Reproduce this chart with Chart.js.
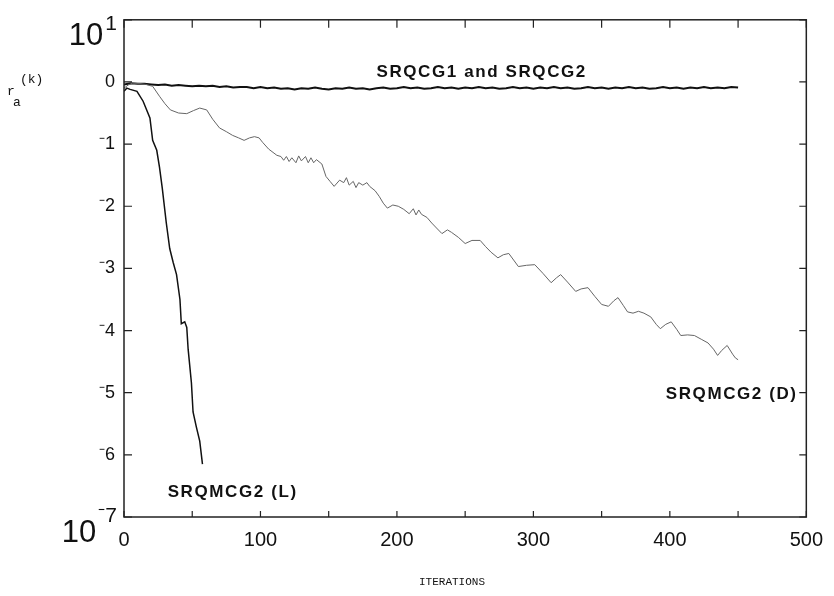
<!DOCTYPE html>
<html>
<head>
<meta charset="utf-8">
<script src="https://cdn.jsdelivr.net/npm/chart.js@4.4.1/dist/chart.umd.min.js"></script>
<style>
  html, body { margin: 0; padding: 0; background: #fff; }
  #wrap { width: 834px; height: 596px; position: relative; }
</style>
</head>
<body>
<div id="wrap"><canvas id="chart"></canvas></div>
<script>
// axis ticks
var xTicks = [0, 50, 100, 150, 200, 250, 300, 350, 400, 450, 500];
var xTickLabels = ["0", "", "100", "", "200", "", "300", "", "400", "", "500"];
var yTickExp = [-7, -6, -5, -4, -3, -2, -1, 0, 1];
var yTickLabels = ["10^-7", "-6", "-5", "-4", "-3", "-2", "-1", "0", "10^1"];

// SRQCG1 and SRQCG2 (log10 of residual)
var flatIter = [0, 5, 10, 15, 20, 25, 30, 35, 40, 45, 50, 55, 60, 65, 70, 75, 80, 85, 90, 95,
  100, 105, 110, 115, 120, 125, 130, 135, 140, 145, 150, 155, 160, 165, 170, 175, 180, 185, 190, 195,
  200, 205, 210, 215, 220, 225, 230, 235, 240, 245, 250, 255, 260, 265, 270, 275, 280, 285, 290, 295,
  300, 305, 310, 315, 320, 325, 330, 335, 340, 345, 350, 355, 360, 365, 370, 375, 380, 385, 390, 395,
  400, 405, 410, 415, 420, 425, 430, 435, 440, 445, 450];
var flatLog = [-0.04, -0.02, -0.03, -0.03, -0.04, -0.05, -0.04, -0.06, -0.05, -0.06, -0.07, -0.06, -0.07, -0.06, -0.08, -0.07, -0.09, -0.08, -0.08, -0.1,
  -0.08, -0.1, -0.09, -0.11, -0.1, -0.12, -0.1, -0.11, -0.09, -0.11, -0.12, -0.1, -0.11, -0.09, -0.11, -0.1, -0.12, -0.1, -0.09, -0.11,
  -0.1, -0.08, -0.1, -0.09, -0.11, -0.1, -0.08, -0.1, -0.09, -0.11, -0.09, -0.1, -0.08, -0.1, -0.09, -0.11, -0.1, -0.08, -0.1, -0.09,
  -0.11, -0.09, -0.1, -0.08, -0.1, -0.09, -0.11, -0.1, -0.08, -0.1, -0.09, -0.11, -0.09, -0.1, -0.08, -0.1, -0.09, -0.11, -0.1, -0.08,
  -0.1, -0.09, -0.11, -0.09, -0.1, -0.08, -0.1, -0.09, -0.1, -0.08, -0.09];

// SRQMCG2 (L)
var lIter = [0, 2, 4.5, 9.5, 14, 19, 21, 24, 26, 28, 31, 33.5, 36, 38.5, 41, 42, 44.5, 46, 47, 49.4, 50.6, 53, 55.5, 57.5];
var lLog = [-0.15, -0.1, -0.12, -0.15, -0.31, -0.58, -0.94, -1.1, -1.37, -1.7, -2.27, -2.68, -2.9, -3.1, -3.5, -3.89, -3.86, -3.95, -4.3, -4.84, -5.31, -5.55, -5.78, -6.15];

// SRQMCG2 (D)
var dIter = [0, 3, 6, 11.7, 16, 21, 26, 30, 34, 40, 46, 51, 55.5, 60.6, 65, 70, 75, 79.6, 84, 88,
  92, 95.6, 99, 101.5, 106, 112, 115, 117, 119, 121, 123, 126, 128, 130, 133, 135, 137, 139, 141, 145,
  148, 151, 154, 158, 161, 163, 165, 168, 170, 172, 175, 178, 180, 184, 187, 190, 193, 197, 201, 205,
  209, 212, 214, 216, 218, 222, 225.5, 229, 233, 237, 240, 245, 250, 255, 261, 265, 269, 274, 278, 282,
  286, 289, 295, 301, 307, 313, 317, 320, 325, 331, 335, 340, 345, 350, 355, 359, 362, 366, 369, 373,
  377, 381, 386, 390, 393, 397, 401, 405, 408, 413, 418, 423, 428, 432, 435, 438, 442, 446, 448, 450];
var dLog = [-0.1, -0.05, -0.02, -0.025, -0.04, -0.07, -0.23, -0.35, -0.45, -0.5, -0.51, -0.46, -0.42, -0.45, -0.6, -0.74, -0.8, -0.86, -0.9, -0.94,
  -0.9, -0.88, -0.9, -0.97, -1.08, -1.18, -1.2, -1.26, -1.2, -1.28, -1.22, -1.3, -1.19, -1.27, -1.2, -1.3, -1.22, -1.3, -1.25, -1.32,
  -1.52, -1.6, -1.68, -1.58, -1.62, -1.54, -1.66, -1.6, -1.7, -1.62, -1.66, -1.62, -1.68, -1.75, -1.84, -1.95, -2.03, -1.98, -2.0, -2.05,
  -2.12, -2.04, -2.14, -2.06, -2.13, -2.18, -2.27, -2.35, -2.44, -2.38, -2.42, -2.5, -2.6, -2.55, -2.55, -2.65, -2.74, -2.83, -2.78, -2.76,
  -2.88, -2.97, -2.95, -2.94, -3.08, -3.23, -3.15, -3.1, -3.22, -3.37, -3.33, -3.31, -3.45, -3.58, -3.61, -3.52, -3.47, -3.6, -3.7, -3.72,
  -3.69, -3.72, -3.78, -3.9, -3.97, -3.9, -3.86, -3.98, -4.08, -4.07, -4.08, -4.14, -4.2, -4.3, -4.4, -4.32, -4.24, -4.38, -4.44, -4.47];

// curve captions: [text, iteration, log10 residual]
var curveNotes = [
  ["SRQCG1 and SRQCG2", 185, 0.16],
  ["SRQMCG2 (D)", 397, -5.03],
  ["SRQMCG2 (L)", 32, -6.6]
];

function toPoints(xs, logs) {
  return xs.map(function (x, i) {
    return { x: x, y: Math.pow(10, logs[i]) };
  });
}

var tickFont = "'Liberation Sans', Arial, sans-serif";

var decor = {
  id: "decor",
  afterDraw: function (chart) {
    var ctx = chart.ctx;
    var a = chart.chartArea;
    var xs = chart.scales.x;
    var ys = chart.scales.y;
    ctx.save();

    // frame
    ctx.strokeStyle = "#222";
    ctx.lineWidth = 1.5;
    ctx.strokeRect(a.left, a.top, a.right - a.left, a.bottom - a.top);

    // inward ticks on all four sides
    ctx.lineWidth = 1.2;
    ctx.beginPath();
    xTicks.forEach(function (v) {
      var px = xs.getPixelForValue(v);
      ctx.moveTo(px, a.bottom);
      ctx.lineTo(px, a.bottom - 6);
      ctx.moveTo(px, a.top);
      ctx.lineTo(px, a.top + 8);
    });
    yTickExp.forEach(function (e) {
      var py = ys.getPixelForValue(Math.pow(10, e));
      ctx.moveTo(a.left, py);
      ctx.lineTo(a.left + 8, py);
      ctx.moveTo(a.right, py);
      ctx.lineTo(a.right - 7, py);
    });
    ctx.stroke();

    // big "10^n" end labels
    ctx.fillStyle = "#111";
    ctx.textAlign = "right";
    ctx.textBaseline = "alphabetic";
    yTickLabels.forEach(function (lab, i) {
      if (lab.indexOf("^") < 0) return;
      var parts = lab.split("^");
      var py = ys.getPixelForValue(Math.pow(10, yTickExp[i]));
      var exp = parts[1].replace("-", "\u207B");
      ctx.font = "21px " + tickFont;
      var expRight = a.left - 7;
      ctx.fillText(exp, expRight, py + (i === 0 ? 5 : 10));
      var expW = ctx.measureText(exp).width;
      ctx.font = "31px " + tickFont;
      ctx.fillText(parts[0], expRight - expW - 2, py + 25);
    });

    // curve captions
    ctx.textAlign = "left";
    ctx.textBaseline = "middle";
    ctx.font = "bold 17px 'Liberation Sans', Arial, sans-serif";
    ctx.letterSpacing = "1.6px";
    curveNotes.forEach(function (n) {
      ctx.fillText(n[0], xs.getPixelForValue(n[1]), ys.getPixelForValue(Math.pow(10, n[2])));
    });
    ctx.letterSpacing = "0px";

    // axis titles in typewriter face
    ctx.font = "11px 'Liberation Mono', 'DejaVu Sans Mono', monospace";
    ctx.textAlign = "center";
    ctx.textBaseline = "alphabetic";
    ctx.fillText("ITERATIONS", 452, 585);

    ctx.font = "13px 'Liberation Mono', 'DejaVu Sans Mono', monospace";
    ctx.textAlign = "left";
    ctx.fillText("r", 7, 95);
    ctx.fillText("a", 13, 106);
    ctx.fillText("(k)", 20, 83);
    ctx.restore();
  }
};

var ctx = document.getElementById("chart").getContext("2d");
var chart = new Chart(ctx, {
  type: "line",
  data: {
    datasets: [
      {
        label: "SRQMCG2 (D)",
        data: toPoints(dIter, dLog),
        borderColor: "#666",
        borderWidth: 1,
        pointRadius: 0,
        tension: 0
      },
      {
        label: "SRQMCG2 (L)",
        data: toPoints(lIter, lLog),
        borderColor: "#111",
        borderWidth: 1.5,
        pointRadius: 0,
        tension: 0
      },
      {
        label: "SRQCG1 and SRQCG2",
        data: toPoints(flatIter, flatLog),
        borderColor: "#111",
        borderWidth: 2,
        pointRadius: 0,
        tension: 0
      }
    ]
  },
  options: {
    responsive: true,
    maintainAspectRatio: false,
    animation: false,
    layout: { padding: { top: 10, right: 25, left: 0, bottom: 0 } },
    plugins: {
      legend: { display: false },
      tooltip: { enabled: false }
    },
    scales: {
      x: {
        type: "linear",
        min: 0,
        max: 500,
        grid: { display: false, drawTicks: false },
        border: { display: false },
        afterBuildTicks: function (scale) {
          scale.ticks = xTicks.map(function (v) { return { value: v }; });
        },
        afterFit: function (scale) { scale.height = 79; },
        ticks: {
          autoSkip: false,
          maxRotation: 0,
          padding: 11,
          color: "#111",
          font: { family: tickFont, size: 20 },
          callback: function (v, i) { return xTickLabels[i]; }
        }
      },
      y: {
        type: "logarithmic",
        min: 1e-7,
        max: 10,
        grid: { display: false, drawTicks: false },
        border: { display: false },
        afterBuildTicks: function (scale) {
          scale.ticks = yTickExp.map(function (e) { return { value: Math.pow(10, e) }; });
        },
        afterFit: function (scale) { scale.width = 124; },
        ticks: {
          autoSkip: false,
          padding: 9,
          color: "#111",
          font: { family: tickFont, size: 18 },
          callback: function (v, i) {
            var lab = yTickLabels[i];
            if (lab.indexOf("^") >= 0) return "";
            return lab.replace("-", "\u207B");
          }
        }
      }
    }
  },
  plugins: [decor]
});
</script>
</body>
</html>
